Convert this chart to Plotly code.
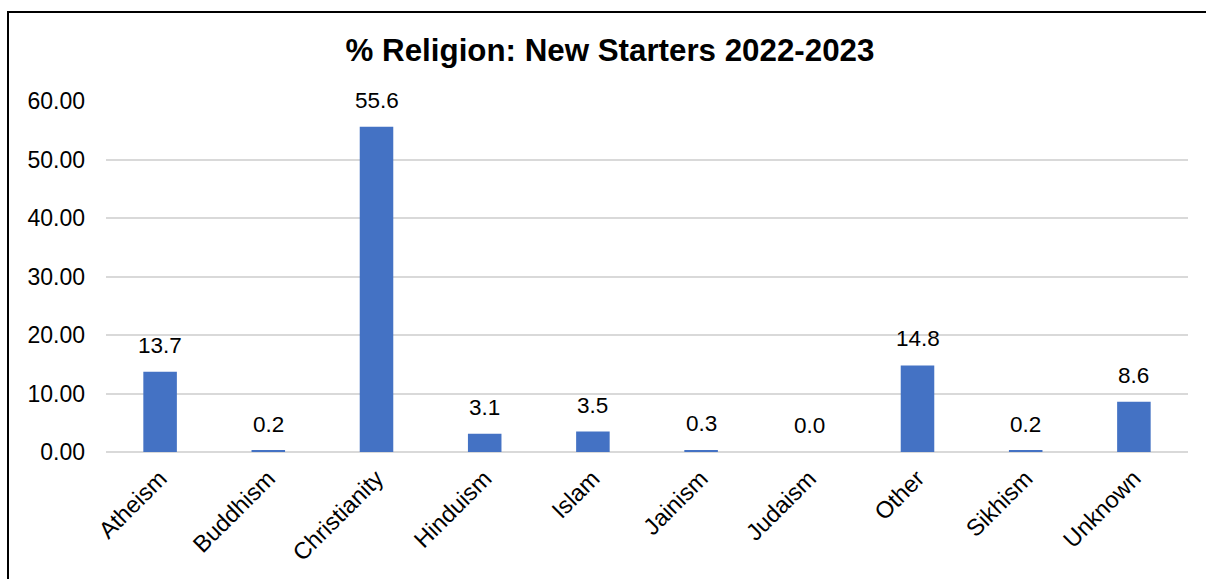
import plotly.graph_objects as go

categories = ["Atheism", "Buddhism", "Christianity", "Hinduism", "Islam",
              "Jainism", "Judaism", "Other", "Sikhism", "Unknown"]
values = [13.7, 0.2, 55.6, 3.1, 3.5, 0.3, 0.0, 14.8, 0.2, 8.6]
title_text = "% Religion: New Starters 2022-2023"

FONT = "Liberation Sans, Arial, sans-serif"
W, H = 1206, 579
L, R, T, B = 106, 18, 101, 127

fig = go.Figure()
fig.add_trace(go.Bar(x=categories, y=values, marker=dict(color="#4472C4", line=dict(width=0)),
                     hoverinfo="x+y"))

for c, v in zip(categories, values):
    fig.add_annotation(x=c, y=v, text=f"{v:.1f}", showarrow=False, xref="x", yref="y",
                       yanchor="bottom", yshift=12,
                       font=dict(family=FONT, size=22.5, color="#000000"))

pw = W - L - R
fig.add_shape(type="rect", xref="paper", yref="paper",
              x0=(8 - L) / pw, x1=1.2, y0=-0.5, y1=1 + (T - 12) / (H - T - B),
              line=dict(color="#000000", width=2), fillcolor="rgba(0,0,0,0)", layer="above")

fig.update_layout(
    width=W, height=H,
    margin=dict(l=L, r=R, t=T, b=B, pad=0),
    paper_bgcolor="white", plot_bgcolor="white",
    bargap=0.69,
    showlegend=False,
    title=dict(text="<b>" + title_text + "</b>", x=610 / W, xref="container", xanchor="center",
               y=1 - 50 / H, yref="container", yanchor="middle",
               font=dict(family=FONT, size=31.3, color="#000000")),
    font=dict(family=FONT, color="#000000"),
)
fig.update_yaxes(range=[0, 60], dtick=10, tickformat=".2f", showgrid=True,
                 gridcolor="#D9D9D9", gridwidth=1.5, zeroline=True, zerolinecolor="#D9D9D9",
                 zerolinewidth=1.5, showline=False, ticks="", ticklabelstandoff=20,
                 tickfont=dict(family=FONT, size=23, color="#000000"))
fig.update_xaxes(tickangle=-45, showline=False, ticks="", ticklabelstandoff=7,
                 tickfont=dict(family=FONT, size=23.5, color="#000000"))

fig.write_html("out.html")
